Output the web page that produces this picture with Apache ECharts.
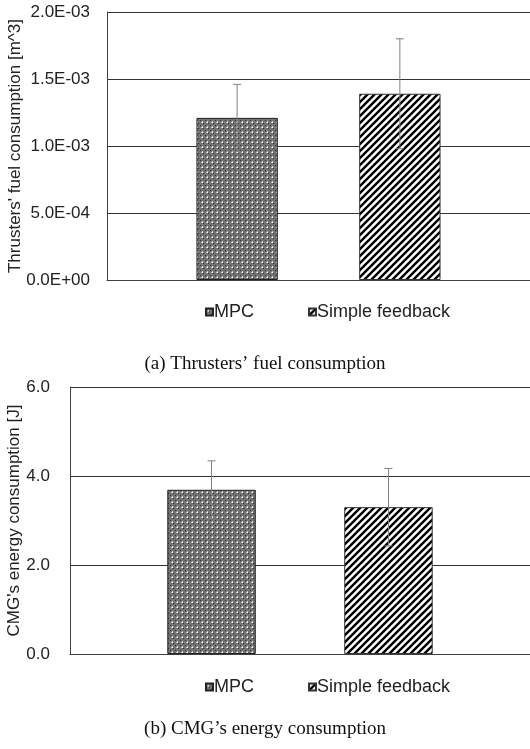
<!DOCTYPE html>
<html>
<head>
<meta charset="utf-8">
<script src="https://cdn.jsdelivr.net/npm/echarts@6/dist/echarts.min.js"></script>
<style>
  html, body { margin: 0; padding: 0; background: #fff; }
  #chart { width: 530px; height: 749px; }
</style>
</head>
<body>
<div id="chart"></div>
<script>
const categories = [''];
const seriesNames = ['MPC', 'Simple feedback'];
const fuelMean = [1.21e-3, 1.39e-3];
const fuelErr = [0.25e-3, 0.41e-3];
const energyMean = [3.69, 3.30];
const energyErr = [0.65, 0.87];
const fuelTicks = ['0.0E+00', '5.0E-04', '1.0E-03', '1.5E-03', '2.0E-03'];
const energyTicks = ['0.0', '2.0', '4.0', '6.0'];

const CAT_GAP = 0.423;

// dotted grey fill like the excel pattern
function dotPattern() {
  const c = document.createElement('canvas');
  c.width = 5; c.height = 5;
  const ctx = c.getContext('2d');
  ctx.fillStyle = '#737373';
  ctx.fillRect(0, 0, 5, 5);
  ctx.fillStyle = '#ffffff';
  ctx.fillRect(2, 2, 1, 1);
  ctx.fillStyle = '#c8c8c8';
  ctx.fillRect(1, 2, 1, 1);
  ctx.fillRect(2, 1, 1, 1);
  ctx.fillStyle = '#333';
  ctx.fillRect(0, 0, 1, 1);
  ctx.fillRect(3, 3, 1, 1);
  return c;
}

// "/" hatching
function hatchPattern() {
  const s = 7;
  const c = document.createElement('canvas');
  c.width = s; c.height = s;
  const ctx = c.getContext('2d');
  ctx.fillStyle = '#fff';
  ctx.fillRect(0, 0, s, s);
  ctx.strokeStyle = '#000';
  ctx.lineWidth = 2.4;
  ctx.beginPath();
  ctx.moveTo(-1, s + 1); ctx.lineTo(s + 1, -1);
  ctx.moveTo(-1, 1); ctx.lineTo(1, -1);
  ctx.moveTo(s - 1, s + 1); ctx.lineTo(s + 1, s - 1);
  ctx.stroke();
  return c;
}

const fills = [
  { image: dotPattern(), repeat: 'repeat' },
  { image: hatchPattern(), repeat: 'repeat' }
];
const borders = ['#222', '#333'];

const chart = echarts.init(document.getElementById('chart'), null, { renderer: 'canvas' });

const font = 'Liberation Sans, Arial, sans-serif';

function errItem(params, api) {
  const idx = api.value(3);
  const mean = api.value(1);
  const err = api.value(2);
  const band = api.size([1, 0])[0];
  const w = band * (1 - CAT_GAP) / 3;
  const cx = api.coord([api.value(0), mean])[0] + (idx === 0 ? -w : w);
  const yTop = api.coord([0, mean + err])[1];
  const yBot = api.coord([0, mean - err])[1];
  const style = { stroke: '#808080', lineWidth: 1 };
  return {
    type: 'group',
    children: [
      { type: 'line', shape: { x1: cx, y1: yTop, x2: cx, y2: yBot }, style },
      { type: 'line', shape: { x1: cx - 4, y1: yTop, x2: cx + 4, y2: yTop }, style },
      { type: 'line', shape: { x1: cx - 4, y1: yBot, x2: cx + 4, y2: yBot }, style }
    ]
  };
}

function barSeries(i, axisIdx, values) {
  return {
    name: seriesNames[i],
    type: 'bar',
    xAxisIndex: axisIdx,
    yAxisIndex: axisIdx,
    data: values.slice(i, i + 1),
    barGap: '100%',
    barCategoryGap: (CAT_GAP * 100) + '%',
    itemStyle: { color: fills[i], borderColor: borders[i], borderWidth: 1 },
    emphasis: { disabled: true },
    z: 2
  };
}

function errSeries(axisIdx, means, errs) {
  return {
    type: 'custom',
    xAxisIndex: axisIdx,
    yAxisIndex: axisIdx,
    renderItem: errItem,
    encode: { x: 0, y: 1 },
    data: means.map((m, i) => [0, m, errs[i], i]),
    silent: true,
    z: 5
  };
}

function yAxisCfg(gridIdx, max, interval, labels, name, margin, nameGap) {
  return {
    type: 'value',
    gridIndex: gridIdx,
    min: 0,
    max: max,
    interval: interval,
    name: name,
    nameLocation: 'middle',
    nameGap: nameGap,
    nameMoveOverlap: false,
    nameTextStyle: { fontFamily: font, fontSize: 17, color: '#222' },
    axisLine: { show: true, lineStyle: { color: '#404040', width: 1 } },
    axisTick: { show: false },
    axisLabel: {
      margin: margin,
      fontFamily: font,
      fontSize: 17,
      color: '#222',
      formatter: v => labels[Math.round(v / interval)]
    },
    splitLine: { show: true, lineStyle: { color: '#333', width: 1 } }
  };
}

function xAxisCfg(gridIdx) {
  return {
    type: 'category',
    gridIndex: gridIdx,
    data: categories,
    axisLine: { show: true, lineStyle: { color: '#404040', width: 1 } },
    axisTick: { show: false },
    axisLabel: { show: false }
  };
}

function legendCfg(top) {
  return {
    data: seriesNames,
    left: 205,
    top: top,
    padding: 0,
    icon: 'rect',
    itemWidth: 7,
    itemHeight: 7,
    itemGap: 54,
    selectedMode: false,
    textStyle: { fontFamily: font, fontSize: 18, color: '#222', padding: [0, 0, 0, -4] }
  };
}

const captionStyle = { fontFamily: 'Liberation Serif, Times New Roman, serif', fontSize: 19, fontWeight: 'normal', color: '#111' };

chart.setOption({
  animation: false,
  backgroundColor: '#fff',
  title: [
    { text: '(a) Thrusters\u2019 fuel consumption', left: 'center', top: 350, textStyle: captionStyle },
    { text: '(b) CMG\u2019s energy consumption', left: 'center', top: 715, textStyle: captionStyle }
  ],
  legend: [legendCfg(303), legendCfg(678)],
  grid: [
    { left: 107, top: 12, width: 423, height: 268, outerBoundsMode: 'none', containLabel: false },
    { left: 70, top: 387, width: 460, height: 267, outerBoundsMode: 'none', containLabel: false }
  ],
  xAxis: [xAxisCfg(0), xAxisCfg(1)],
  yAxis: [
    yAxisCfg(0, 2e-3, 5e-4, fuelTicks, "Thrusters' fuel consumption [m^3]", 17, 83),
    yAxisCfg(1, 6, 2, energyTicks, "CMG's energy consumption [J]", 20, 47)
  ],
  series: [
    barSeries(0, 0, fuelMean),
    barSeries(1, 0, fuelMean),
    errSeries(0, fuelMean, fuelErr),
    barSeries(0, 1, energyMean),
    barSeries(1, 1, energyMean),
    errSeries(1, energyMean, energyErr)
  ]
});
</script>
</body>
</html>
